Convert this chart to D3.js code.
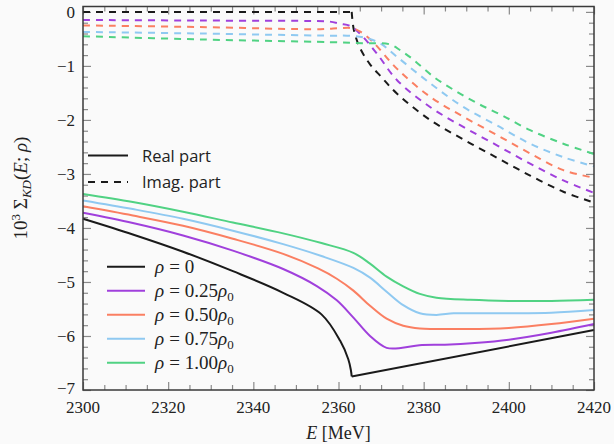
<!DOCTYPE html>
<html>
<head>
<meta charset="utf-8">
<script src="https://cdnjs.cloudflare.com/ajax/libs/d3/7.8.5/d3.min.js"></script>
<style>
  body { margin: 0; background: #fafafa; }
</style>
</head>
<body>
<div id="chart"></div>
<script>
// axis ticks
const xTicks = [2300, 2320, 2340, 2360, 2380, 2400, 2420];
const yTicks = [0, -1, -2, -3, -4, -5, -6, -7];
const densities = ["0", "0.25", "0.50", "0.75", "1.00"];

// real parts [E (MeV), 10^3 Sigma]
const reRho0 = [[2300,-3.83],[2311.7,-4.12],[2323.5,-4.44],[2335.2,-4.8],[2347,-5.2],[2356,-5.6],[2360.4,-6.09],[2362.3,-6.43],[2362.9,-6.63],[2363.1,-6.75],[2420,-5.89]];
const reRho25 = [[2300,-3.72],[2311.7,-3.91],[2323.5,-4.14],[2335.2,-4.42],[2347,-4.76],[2355,-5.08],[2359.6,-5.34],[2363.5,-5.66],[2367.4,-6.0],[2371.3,-6.22],[2375,-6.22],[2379,-6.17],[2385,-6.16],[2392,-6.13],[2400,-6.07],[2410,-5.94],[2420,-5.78]];
const reRho50 = [[2300,-3.6],[2311.7,-3.77],[2323.5,-3.96],[2335.2,-4.2],[2347,-4.48],[2355.2,-4.75],[2359.6,-4.94],[2363.5,-5.16],[2367.4,-5.44],[2371.3,-5.68],[2375.2,-5.81],[2379.1,-5.86],[2390,-5.87],[2400,-5.85],[2410,-5.78],[2420,-5.68]];
const reRho75 = [[2300,-3.49],[2311.7,-3.65],[2323.5,-3.83],[2335.2,-4.05],[2347,-4.3],[2356,-4.52],[2363.5,-4.74],[2367.4,-4.92],[2371.3,-5.18],[2375.2,-5.43],[2379.1,-5.58],[2383,-5.61],[2387,-5.58],[2392,-5.58],[2400,-5.58],[2410,-5.57],[2420,-5.52]];
const reRho100 = [[2300,-3.37],[2311.7,-3.52],[2323.5,-3.7],[2335.2,-3.9],[2347,-4.1],[2356,-4.28],[2363.5,-4.46],[2367.4,-4.66],[2371.3,-4.9],[2375.2,-5.08],[2379.1,-5.22],[2383,-5.29],[2391,-5.33],[2400,-5.35],[2410,-5.35],[2420,-5.33]];

// imaginary parts
const imRho0 = [[2300,0],[2363.1,0],[2363.6,-0.33],[2365,-0.66],[2367.4,-0.97],[2370,-1.2],[2373.7,-1.51],[2381.5,-2.0],[2389.3,-2.36],[2397.2,-2.7],[2405,-3.03],[2412.8,-3.33],[2420,-3.53]];
const imRho25 = [[2300,-0.15],[2327.5,-0.16],[2355,-0.17],[2358,-0.18],[2360.4,-0.22],[2362.7,-0.26],[2365,-0.4],[2369,-0.77],[2373.7,-1.26],[2381.5,-1.76],[2389.3,-2.13],[2397.2,-2.47],[2405,-2.81],[2412.8,-3.12],[2420,-3.35]];
const imRho50 = [[2300,-0.25],[2327.5,-0.28],[2355.7,-0.32],[2360.4,-0.3],[2363,-0.3],[2365,-0.36],[2368,-0.55],[2373.7,-1.05],[2381.5,-1.57],[2389.3,-1.94],[2397.2,-2.28],[2405,-2.62],[2412.8,-2.93],[2420,-3.07]];
const imRho75 = [[2300,-0.37],[2327.5,-0.4],[2358,-0.44],[2362,-0.44],[2365.8,-0.47],[2369.7,-0.58],[2373.7,-0.83],[2381.5,-1.32],[2389.3,-1.76],[2397.2,-2.1],[2405,-2.44],[2412.8,-2.69],[2420,-2.86]];
const imRho100 = [[2300,-0.45],[2327.5,-0.51],[2358,-0.56],[2365.8,-0.58],[2372,-0.6],[2374.5,-0.71],[2377.2,-0.86],[2382.3,-1.2],[2387.4,-1.46],[2392.8,-1.7],[2398.3,-1.91],[2405,-2.19],[2412.8,-2.44],[2420,-2.63]];

const threshold = 2363.1;
const colors = ["#1a1a1a", "#a040dc", "#fa7f62", "#8fc9f1", "#50d283"];
const reals = [reRho0, reRho25, reRho50, reRho75, reRho100];
const imags = [imRho0, imRho25, imRho50, imRho75, imRho100];

const width = 614, height = 444;
const margin = {top: 6.5, right: 20, bottom: 54, left: 83};
const svg = d3.select("#chart").append("svg").attr("width", width).attr("height", height)
  .style("background", "#fafafa");

const x = d3.scaleLinear().domain([2300, 2420]).range([margin.left, width - margin.right]);
const y = d3.scaleLinear().domain([-7, 0.1]).range([height - margin.bottom, margin.top]);

const serif = "'Liberation Serif', serif";
const sans = "'Open Sans', sans-serif";

// minor ticks
const xMinor = d3.range(2300, 2421, 5).filter(v => v % 20 !== 0);
const yMinor = d3.range(-35, 1).map(v => v / 5).filter(v => Math.abs(v - Math.round(v)) > 1e-6);

function tickAxis(axisFn, scale, major, minor, tr) {
  const g = svg.append("g").attr("transform", tr);
  g.call(axisFn(scale).tickValues(minor).tickSize(-5).tickFormat(""));
  g.append("g").call(axisFn(scale).tickValues(major).tickSize(-8).tickFormat(""));
  g.selectAll(".domain").remove();
  g.selectAll("line").attr("stroke", "#8a8a8a").attr("stroke-width", 1.2);
  return g;
}
tickAxis(d3.axisBottom, x, xTicks, xMinor, `translate(0,${y(-7)})`);
tickAxis(d3.axisTop, x, xTicks, xMinor, `translate(0,${y(0.1)})`);
tickAxis(d3.axisLeft, y, yTicks, yMinor, `translate(${x(2300)},0)`);
tickAxis(d3.axisRight, y, yTicks, yMinor, `translate(${x(2420)},0)`);

// tick labels
svg.append("g").selectAll("text").data(xTicks).join("text")
  .attr("x", d => x(d)).attr("y", y(-7) + 23).attr("text-anchor", "middle")
  .attr("font-family", serif).attr("font-size", 17).attr("fill", "#222")
  .text(d => d);
svg.append("g").selectAll("text").data(yTicks).join("text")
  .attr("x", x(2300) - 8).attr("y", d => y(d) + (d === -7 ? 4 : 6)).attr("text-anchor", "end")
  .attr("font-family", serif).attr("font-size", 17).attr("fill", "#222")
  .text(d => d === 0 ? "0" : "\u2212" + Math.abs(d));

// curves
const smooth = d3.line().x(d => x(d[0])).y(d => y(d[1])).curve(d3.curveCatmullRom.alpha(0.5));
const straight = d3.line().x(d => x(d[0])).y(d => y(d[1]));
const plot = svg.append("g");

function drawSeries(pts, color, dashed, isReal, split) {
  let parts = [[pts, smooth]];
  if (split) {
    const left = pts.filter(d => d[0] <= threshold);
    const right = pts.filter(d => d[0] >= threshold);
    parts = isReal ? [[left, smooth], [right, straight]] : [[left, straight], [right, smooth]];
  }
  parts.forEach(([p, gen]) => {
    plot.append("path").datum(p).attr("d", gen)
      .attr("fill", "none").attr("stroke", color).attr("stroke-width", 2)
      .attr("stroke-dasharray", dashed ? "7,6" : null);
  });
}
imags.forEach((s, i) => drawSeries(s, colors[i], true, false, i === 0));
reals.forEach((s, i) => drawSeries(s, colors[i], false, true, i === 0));

// frame
svg.append("rect").attr("x", x(2300)).attr("y", y(0.1))
  .attr("width", x(2420) - x(2300)).attr("height", y(-7) - y(0.1))
  .attr("fill", "none").attr("stroke", "#3a3a3a").attr("stroke-width", 1.5);

// legend: real / imaginary
const leg1 = svg.append("g");
[["Real part", null, 155.5], ["Imag. part", "7,6", 182]].forEach(([lab, dash, ly]) => {
  leg1.append("line").attr("x1", 88).attr("x2", 128).attr("y1", ly).attr("y2", ly)
    .attr("stroke", "#1a1a1a").attr("stroke-width", 2).attr("stroke-dasharray", dash);
  leg1.append("text").attr("x", 142).attr("y", ly + 6)
    .attr("font-family", sans).attr("font-size", 16.5).attr("fill", "#222").text(lab);
});

// legend: densities
const leg2 = svg.append("g");
densities.forEach((dv, i) => {
  const ly = 266.7 + i * 24;
  leg2.append("line").attr("x1", 107).attr("x2", 145).attr("y1", ly).attr("y2", ly)
    .attr("stroke", colors[i]).attr("stroke-width", 2);
  const t = leg2.append("text").attr("x", 155).attr("y", ly + 6)
    .attr("font-family", serif).attr("font-size", 19).attr("fill", "#222");
  t.append("tspan").attr("font-style", "italic").text("\u03c1");
  t.append("tspan").attr("dx", 5).text("=");
  t.append("tspan").attr("dx", 5).text(dv);
  if (i > 0) {
    t.append("tspan").attr("font-style", "italic").text("\u03c1");
    t.append("tspan").attr("font-size", 13).attr("dy", 4).text("0");
  }
});

// axis titles
const xl = svg.append("text").attr("x", (x(2300) + x(2420)) / 2).attr("y", 439)
  .attr("text-anchor", "middle").attr("font-family", serif).attr("font-size", 18).attr("fill", "#222");
xl.append("tspan").attr("font-style", "italic").text("E");
xl.append("tspan").text(" [MeV]");

const yl = svg.append("text").attr("transform", "translate(27,188) rotate(-90)")
  .attr("text-anchor", "middle").attr("font-family", serif).attr("font-size", 19).attr("fill", "#222");
yl.append("tspan").text("10");
yl.append("tspan").attr("font-size", 13).attr("dy", -7).text("3");
yl.append("tspan").attr("dy", 7).text(" \u03a3");
yl.append("tspan").attr("font-size", 13).attr("dy", 4).attr("font-style", "italic").text("KD");
yl.append("tspan").attr("dy", -4).text("(");
yl.append("tspan").attr("font-style", "italic").text("E");
yl.append("tspan").text("; ");
yl.append("tspan").attr("font-style", "italic").text("\u03c1");
yl.append("tspan").text(")");
</script>
</body>
</html>
